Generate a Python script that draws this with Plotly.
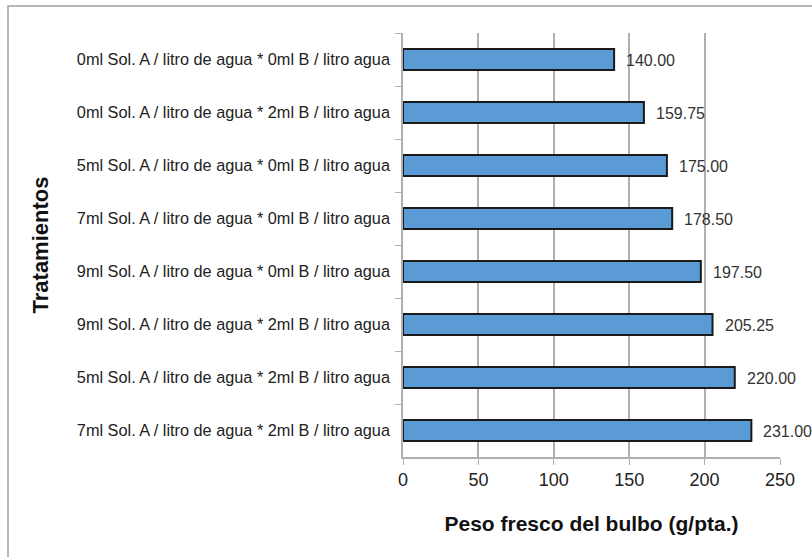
import plotly.graph_objects as go

categories = [
    "0ml Sol. A / litro de agua * 0ml B / litro agua",
    "0ml Sol. A / litro de agua * 2ml B / litro agua",
    "5ml Sol. A / litro de agua * 0ml B / litro agua",
    "7ml Sol. A / litro de agua * 0ml B / litro agua",
    "9ml Sol. A / litro de agua * 0ml B / litro agua",
    "9ml Sol. A / litro de agua * 2ml B / litro agua",
    "5ml Sol. A / litro de agua * 2ml B / litro agua",
    "7ml Sol. A / litro de agua * 2ml B / litro agua",
]
values = [140.00, 159.75, 175.00, 178.50, 197.50, 205.25, 220.00, 231.00]
x_ticks = [0, 50, 100, 150, 200, 250]

W, H = 812, 557
L, R, T, B = 403, 32, 33, 100
FONT = "Liberation Sans, Arial, sans-serif"

fig = go.Figure()
fig.add_trace(go.Bar(
    x=values, y=categories, orientation="h",
    marker=dict(color="#5b9bd5", line=dict(color="#1a1a1a", width=2)),
    showlegend=False, hoverinfo="x+y",
))

for v, c in zip(values, categories):
    fig.add_annotation(x=v, y=c, text=f"{v:.2f}", showarrow=False,
                       xanchor="left", xshift=10, yshift=-1,
                       font=dict(family=FONT, size=16, color="#333333"))

pw = W - L - R
ph = H - T - B
fig.add_shape(type="rect", xref="paper", yref="paper",
              x0=(8 - L) / pw, x1=(W + 20 - L) / pw,
              y0=-(H + 20 - T - ph) / ph, y1=1 + (T - 6) / ph,
              line=dict(color="#a0a0a0", width=1.5), layer="below")

fig.update_layout(
    width=W, height=H,
    margin=dict(l=L, r=R, t=T, b=B, autoexpand=False),
    paper_bgcolor="white", plot_bgcolor="white",
    bargap=0.6,
    font=dict(family=FONT, color="#222222"),
    xaxis=dict(
        range=[0, 250], tickvals=x_ticks, ticktext=[str(t) for t in x_ticks],
        showgrid=True, gridcolor="#b0b0b0", gridwidth=1.5,
        zeroline=False, showline=True, linecolor="#b0b0b0", linewidth=1.5,
        ticks="outside", ticklen=6, tickcolor="#b0b0b0",
        tickfont=dict(size=18, color="#222222"), automargin=False,
        title=dict(text="<b>Peso fresco del bulbo (g/pta.)</b>",
                   font=dict(family=FONT, size=21, color="#111111"), standoff=27),
    ),
    yaxis=dict(
        categoryorder="array", categoryarray=categories, autorange="reversed",
        showline=True, linecolor="#b0b0b0", linewidth=1.5,
        ticks="outside", ticklen=6, tickcolor="#b0b0b0", tickson="boundaries",
        tickfont=dict(size=16.3, color="#222222"), ticklabelstandoff=8,
        showgrid=False, automargin=False,
        title=dict(text="<b>Tratamientos</b>",
                   font=dict(family=FONT, size=22, color="#111111"), standoff=22),
    ),
)

fig.write_html("out.html")
